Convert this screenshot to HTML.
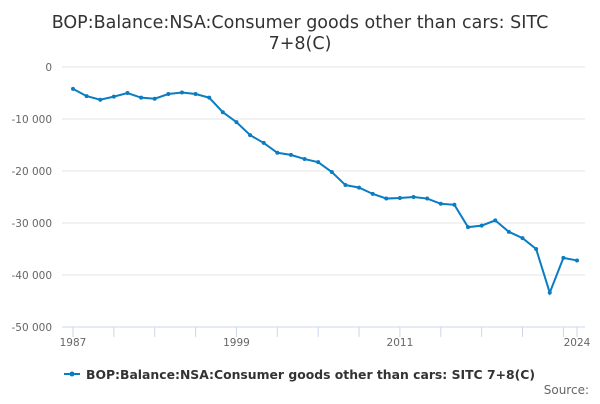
<!DOCTYPE html>
<html><head><meta charset="utf-8"><style>
body{margin:0;width:600px;height:400px;background:#fff;font-family:"DejaVu Sans","Liberation Sans",sans-serif;overflow:hidden}
svg text{font-family:"DejaVu Sans","Liberation Sans",sans-serif}
</style></head><body>
<svg id="c" width="600" height="400">
<text x="300" y="28" text-anchor="middle" font-size="17.5" fill="#333">BOP:Balance:NSA:Consumer goods other than cars: SITC</text>
<text x="300" y="49" text-anchor="middle" font-size="17.5" fill="#333">7+8(C)</text>
<g id="grid"></g><g id="xa"></g><g id="series"></g>
<g>
<line x1="64" y1="374" x2="80" y2="374" stroke="#0a7dc2" stroke-width="2"/><circle cx="72" cy="374" r="2.5" fill="#0a7dc2"/>
<text x="86" y="379" font-size="12.5" font-weight="bold" fill="#333" textLength="449" lengthAdjust="spacingAndGlyphs">BOP:Balance:NSA:Consumer goods other than cars: SITC 7+8(C)</text></g>
<text x="589" y="394" text-anchor="end" font-size="12" fill="#666">Source:</text>
</svg>
<script>
const years=[1987,1988,1989,1990,1991,1992,1993,1994,1995,1996,1997,1998,1999,2000,2001,2002,2003,2004,2005,2006,2007,2008,2009,2010,2011,2012,2013,2014,2015,2016,2017,2018,2019,2020,2021,2022,2023,2024];
const values=[-4200,-5600,-6300,-5700,-5000,-5900,-6100,-5200,-4900,-5200,-5900,-8700,-10600,-13100,-14600,-16500,-16900,-17700,-18300,-20200,-22700,-23200,-24400,-25300,-25200,-25000,-25300,-26300,-26500,-30800,-30500,-29500,-31700,-32900,-35000,-43400,-36700,-37200];
const yTicks=[0,-10000,-20000,-30000,-40000,-50000];
const yTickLabels=["0","-10 000","-20 000","-30 000","-40 000","-50 000"];
const xLabels=[1987,1999,2011,2024];
const NS="http://www.w3.org/2000/svg";
const x=v=>73+(v-1987)*(577-73)/(2024-1987);
const y=v=>67+(-v)*260/50000;
function mk(t,a,p){const e=document.createElementNS(NS,t);for(const k in a)e.setAttribute(k,a[k]);p.appendChild(e);return e;}
const g=document.getElementById('grid');
yTicks.forEach((t,i)=>{
 const l=mk('line',{x1:62,x2:585,y1:y(t),y2:y(t),stroke:t===-50000?'#ccd6eb':'#e6e6e6'},g);
 
 
 const tx=mk('text',{x:52,y:y(t)+4,'text-anchor':'end','font-size':10.5,fill:'#666'},g);
 tx.textContent=yTickLabels[i];
 
 
});
const xa=document.getElementById('xa');
for(let yr=1987;yr<=2024;yr+=3){
 const t=mk('line',{x1:x(yr),x2:x(yr),y1:327,y2:337,stroke:'#ccd6eb'},xa);
 
 
}
mk('line',{x1:x(2024),x2:x(2024),y1:327,y2:337,stroke:'#ccd6eb'},xa);
xLabels.forEach(yr=>{
 const tx=mk('text',{x:x(yr),y:346,'text-anchor':'middle','font-size':10.5,fill:'#666'},xa);
 tx.textContent=yr;
 
 
});
const s=document.getElementById('series');
const p=mk('path',{d:years.map((yr,i)=>(i?'L':'M')+x(yr)+' '+y(values[i])).join(' '),fill:'none',stroke:'#0a7dc2','stroke-width':2},s);


years.forEach((yr,i)=>{
 const c=mk('circle',{cx:x(yr),cy:y(values[i]),r:2,fill:'#0a7dc2'},s);
 
 
});
</script>
</body></html>
